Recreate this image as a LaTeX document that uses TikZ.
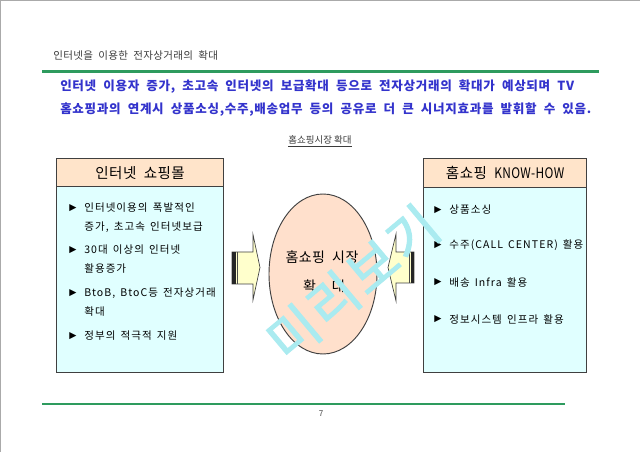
\documentclass[tikz,border=0pt]{standalone}
\usepackage{fontspec}
\setmainfont{Noto Sans CJK KR}
\newfontfamily\dvs{DejaVu Sans}
\newfontfamily\krA[LetterSpace=5.5,WordSpace=2]{Noto Sans CJK KR}
\newfontfamily\krB[LetterSpace=10,WordSpace=1.5]{Noto Sans CJK KR}
\newfontfamily\krC[LetterSpace=3,WordSpace=2]{Noto Sans CJK KR}
\newfontfamily\krW[FakeBold=2]{Noto Sans CJK KR}
\usetikzlibrary{shapes.geometric}
\definecolor{peach}{RGB}{255,228,202}
\definecolor{cyanf}{RGB}{224,255,255}
\definecolor{ellf}{RGB}{255,224,204}
\definecolor{arrowy}{RGB}{255,255,204}
\definecolor{greenl}{RGB}{46,155,94}
\definecolor{bluet}{RGB}{51,51,204}
\definecolor{wm}{RGB}{170,235,240}
\definecolor{boxc}{RGB}{64,64,64}
\definecolor{titleg}{RGB}{60,60,60}
\definecolor{frameg}{RGB}{170,170,170}
\tikzset{
  txt/.style={inner sep=0pt, anchor=west},
  bluetxt/.style={txt, text=bluet, font=\krA\fontsize{9.4}{11}\selectfont\bfseries},
  itemtxt/.style={txt, font=\krB\fontsize{7.9}{9}\selectfont},
  bul/.style={inner sep=0pt, font=\dvs\fontsize{7}{8}\selectfont},
  boxbody/.style={draw=boxc, fill=cyanf, line width=0.9pt, inner sep=0pt, anchor=north west},
  boxhead/.style={draw=boxc, fill=peach, line width=0.9pt, inner sep=0pt, anchor=north west, font=\krC\fontsize{10.9}{12}\selectfont},
  blockarrow/.style={fill=arrowy, draw=boxc, line width=0.5pt},
}
\begin{document}
\begin{tikzpicture}[x=0.75pt,y=-0.75pt]
\useasboundingbox (0,0) rectangle (640,452);
\fill[white] (0,0) rectangle (640,452);
\draw[frameg, line width=1.1pt] (0,452) -- (0,0) -- (640,0);

% title
\node[txt, text=titleg, font=\krC\fontsize{7.9}{9}\selectfont] (title) at (53,56) {인터넷을 이용한 전자상거래의 확대};
\coordinate (gl1) at (42,71.5);
\coordinate (gr1) at (599,71.5);
\draw[greenl, line width=2.2pt] (gl1) -- (gr1);

% blue text
\node[bluetxt] (l1) at (60,87) {인터넷 이용자 증가, 초고속 인터넷의 보급확대 등으로 전자상거래의 확대가 예상되며 TV};
\node[bluetxt] (l2) at (60,110) {홈쇼핑과의 연계시 상품소싱,수주,배송업무 등의 공유로 더 큰 시너지효과를 발휘할 수 있음.};

% subtitle
\node[inner sep=0pt, text=titleg, font=\fontsize{7.1}{9}\selectfont] (sub) at (320,141) {\underline{홈쇼핑시장 확대}};

% left box
\node[boxbody, minimum width=125.25pt, minimum height=139.5pt] (lbody) at (56,186) {};
\node[boxhead, minimum width=125.25pt, minimum height=21pt] (lhead) at (56,158) {인터넷 쇼핑몰};

\node[bul] (lb1) at (73,208) {▶};
\node[itemtxt] (lt1) at (84,208) {인터넷이용의 폭발적인};
\node[itemtxt] (lt2) at (84,227) {증가, 초고속 인터넷보급};
\node[bul] (lb2) at (73,250) {▶};
\node[itemtxt] (lt3) at (84,250) {30대 이상의 인터넷};
\node[itemtxt] (lt4) at (84,269) {활용증가};
\node[bul] (lb3) at (73,293) {▶};
\node[itemtxt] (lt5) at (84,293) {BtoB, BtoC등 전자상거래};
\node[itemtxt] (lt6) at (84,312) {확대};
\node[bul] (lb4) at (73,336) {▶};
\node[itemtxt] (lt7) at (84,336) {정부의 적극적 지원};

% right box
\node[boxbody, minimum width=122.25pt, minimum height=138.75pt] (rbody) at (423,187) {};
\node[boxhead, minimum width=122.25pt, minimum height=21.75pt] (rhead) at (423,158) {홈쇼핑 \scalebox{0.82}[1]{KNOW-HOW}};

\node[bul] (rb1) at (438,210) {▶};
\node[itemtxt] (rt1) at (449,210) {상품소싱};
\node[bul] (rb2) at (438,245.5) {▶};
\node[itemtxt] (rt2) at (449,245.5) {수주(CALL CENTER) 활용};
\node[bul] (rb3) at (438,282.5) {▶};
\node[itemtxt] (rt3) at (449,282.5) {배송 Infra 활용};
\node[bul] (rb4) at (438,319.5) {▶};
\node[itemtxt] (rt4) at (449,319.5) {정보시스템 인프라 활용};

% ellipse
\node[ellipse, draw=boxc, fill=ellf, line width=0.7pt, minimum width=81pt, minimum height=120pt, inner sep=0pt] (ell) at (323,274) {};
\node[inner sep=0pt, font=\krC\fontsize{10.5}{12}\selectfont] (e1) at (322,257.5) {홈쇼핑 시장};
\node[inner sep=0pt, font=\fontsize{10.5}{12}\selectfont] (e2) at (324,286) {확\hspace{12pt}대};

% left block arrow
\draw[blockarrow] (232,252) -- (253,252) -- (253,234.5) -- (260,267.5) -- (253,300) -- (253,284) -- (232,284) -- cycle;
\fill[black!85] (232,252) rectangle (235.5,284);
\draw[black!70, line width=0.6pt] (237.5,252) -- (237.5,284);

% right block arrow
\draw[blockarrow] (414,252) -- (396,252) -- (396,234) -- (388,267.5) -- (396,301) -- (396,283) -- (414,283) -- cycle;
\fill[black!85] (410.5,252) rectangle (414,283);
\draw[black!70, line width=0.6pt] (409,252) -- (409,283);

% bottom line and page number
\coordinate (gl2) at (42,404);
\coordinate (gr2) at (565,404);
\draw[greenl, line width=1.5pt] (gl2) -- (gr2);
\node[inner sep=0pt, text=titleg, font=\fontsize{6}{7}\selectfont] (pg) at (321,414) {7};

% watermark
\node[inner sep=0pt, rotate=40, text=wm, font=\krW\fontsize{40}{42}\selectfont] (wmk) at (353,283) {미\hspace{2pt}리\hspace{2pt}보\hspace{2pt}기};
\end{tikzpicture}
\end{document}
